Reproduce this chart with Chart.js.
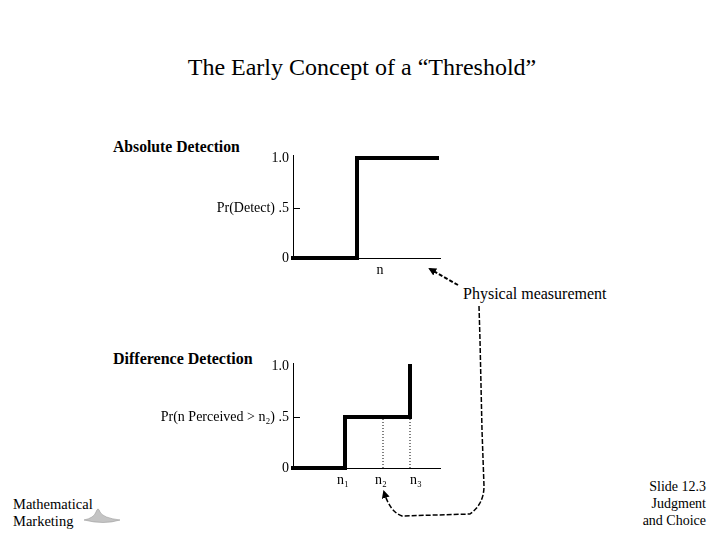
<!DOCTYPE html>
<html>
<head>
<meta charset="utf-8">
<script src="https://cdn.jsdelivr.net/npm/chart.js@4/dist/chart.umd.min.js"></script>
<style>
  body { margin: 0; width: 720px; height: 540px; background: #fff; position: relative; overflow: hidden;
         font-family: "Liberation Serif", "Times New Roman", serif; color: #000; }
  .t { position: absolute; white-space: nowrap; }
  canvas { position: absolute; }
</style>
</head>
<body>
<div class="t" style="left:0;width:724px;top:54px;text-align:center;font-size:24px;">The Early Concept of a “Threshold”</div>
<div class="t" style="left:113px;top:138px;font-size:15.7px;font-weight:bold;">Absolute Detection</div>
<div class="t" style="left:113px;top:350px;font-size:16px;font-weight:bold;">Difference Detection</div>
<div class="t" style="left:463px;top:285px;font-size:16px;">Physical measurement</div>
<div class="t" style="left:13px;top:496px;font-size:14.5px;line-height:17px;">Mathematical<br>Marketing</div>
<div class="t" style="right:14px;top:478px;font-size:14px;line-height:17px;text-align:right;">Slide 12.3<br>Judgment<br>and Choice</div>

<div style="position:absolute;left:150px;top:140px;width:300px;height:150px;"><canvas id="absChart"></canvas></div>
<div style="position:absolute;left:130px;top:350px;width:320px;height:150px;"><canvas id="diffChart"></canvas></div>

<svg width="720" height="540" style="position:absolute;left:0;top:0;pointer-events:none;">
  <defs>
    <marker id="head" markerWidth="8" markerHeight="8" refX="6" refY="4" orient="auto" markerUnits="userSpaceOnUse">
      <path d="M0,0 L8,4 L0,8 z" fill="#000"/>
    </marker>
  </defs>
  <line x1="458" y1="285" x2="430" y2="269" stroke="#000" stroke-width="2" stroke-dasharray="4,2" marker-end="url(#head)"/>
  <path d="M479,306 L480,340 L482,430 L484,486 Q484,504 470,514 L402,516 Q390,512 384,492"
        fill="none" stroke="#000" stroke-width="1.5" stroke-dasharray="5,2" marker-end="url(#head)"/>
  <!-- logo -->
  <path d="M84,520 Q94,518 96,512 Q98,506 100,512 Q103,518 120,520 Q104,525 84,520 z" fill="#c4c4c4" stroke="#9a9a9a" stroke-width="0.6"/>
</svg>

<script>
// Absolute detection step function
const absX = [0, 64, 64, 144];
const absY = [0, 0, 1, 1];
const absTickX = [87];
const absTickXLabels = ['n'];

// Difference detection step function
const diffX = [0, 52, 52, 117, 117];
const diffY = [0, 0, 0.5, 0.5, 1];
const diffGuideN2 = [[90, 0], [90, 0.5]];
const diffGuideN3 = [[117, 0], [117, 0.5]];
const diffTickX = [50, 88, 123];
const diffTickXLabels = ['n\u2081', 'n\u2082', 'n\u2083'];

const yTicks = [0, 0.5, 1];
const yTickLabels = ['0', '.5', '1.0'];

const tickFont = { family: 'Liberation Serif', size: 14 };

const innerTick = {
  id: 'innerTick',
  afterDraw(chart) {
    const y = chart.scales.y, ctx = chart.ctx;
    const py = Math.round(y.getPixelForValue(0.5));
    ctx.save();
    ctx.strokeStyle = '#000';
    ctx.lineWidth = 1;
    ctx.beginPath();
    ctx.moveTo(y.right, py + 0.5);
    ctx.lineTo(y.right + 7, py + 0.5);
    ctx.stroke();
    ctx.restore();
  }
};

function makeChart(id, datasets, xTicks, xLabels, yName, yWidth, padTop) {
  return new Chart(document.getElementById(id), {
    type: 'line',
    data: { datasets: datasets },
    options: {
      responsive: true,
      maintainAspectRatio: false,
      animation: false,
      layout: { padding: { top: padTop, right: 10, left: 0, bottom: 0 } },
      plugins: { legend: { display: false }, tooltip: { enabled: false } },
      scales: {
        x: {
          type: 'linear', min: 0, max: 147,
          grid: { display: false, drawTicks: false },
          border: { display: true, color: '#000', width: 1 },
          afterBuildTicks: s => { s.ticks = xTicks.map(v => ({ value: v })); },
          afterFit: s => { s.height = 32; },
          ticks: {
            color: '#000', font: tickFont, padding: 4, autoSkip: false, maxRotation: 0,
            callback: (v, i) => xLabels[i]
          }
        },
        y: {
          min: 0, max: 1.03,
          grid: { display: false, drawTicks: false },
          border: { display: true, color: '#000', width: 1 },
          afterBuildTicks: s => { s.ticks = yTicks.map(v => ({ value: v })); },
          afterFit: s => { s.width = yWidth; },
          ticks: {
            color: '#000', font: tickFont, padding: 4,
            callback: (v, i) => (v === 0.5 ? yName + ' ' : '') + yTickLabels[i]
          }
        }
      }
    },
    plugins: [innerTick]
  });
}

const thick = { borderColor: '#000', borderWidth: 4, pointRadius: 0, tension: 0, clip: false, borderJoinStyle: 'miter', borderCapStyle: 'square' };
const dotted = { borderColor: '#000', borderWidth: 1, borderDash: [1, 2], pointRadius: 0, clip: false };

makeChart('absChart', [
  Object.assign({ data: absX.map((x, i) => ({ x: x, y: absY[i] })) }, thick)
], absTickX, absTickXLabels, 'Pr(Detect)', 143, 15);

makeChart('diffChart', [
  Object.assign({ data: diffGuideN2.map(p => ({ x: p[0], y: p[1] })) }, dotted),
  Object.assign({ data: diffGuideN3.map(p => ({ x: p[0], y: p[1] })) }, dotted),
  Object.assign({ data: diffX.map((x, i) => ({ x: x, y: diffY[i] })) }, thick)
], diffTickX, diffTickXLabels, 'Pr(n Perceived > n\u2082)', 163, 13);
</script>
</body>
</html>
